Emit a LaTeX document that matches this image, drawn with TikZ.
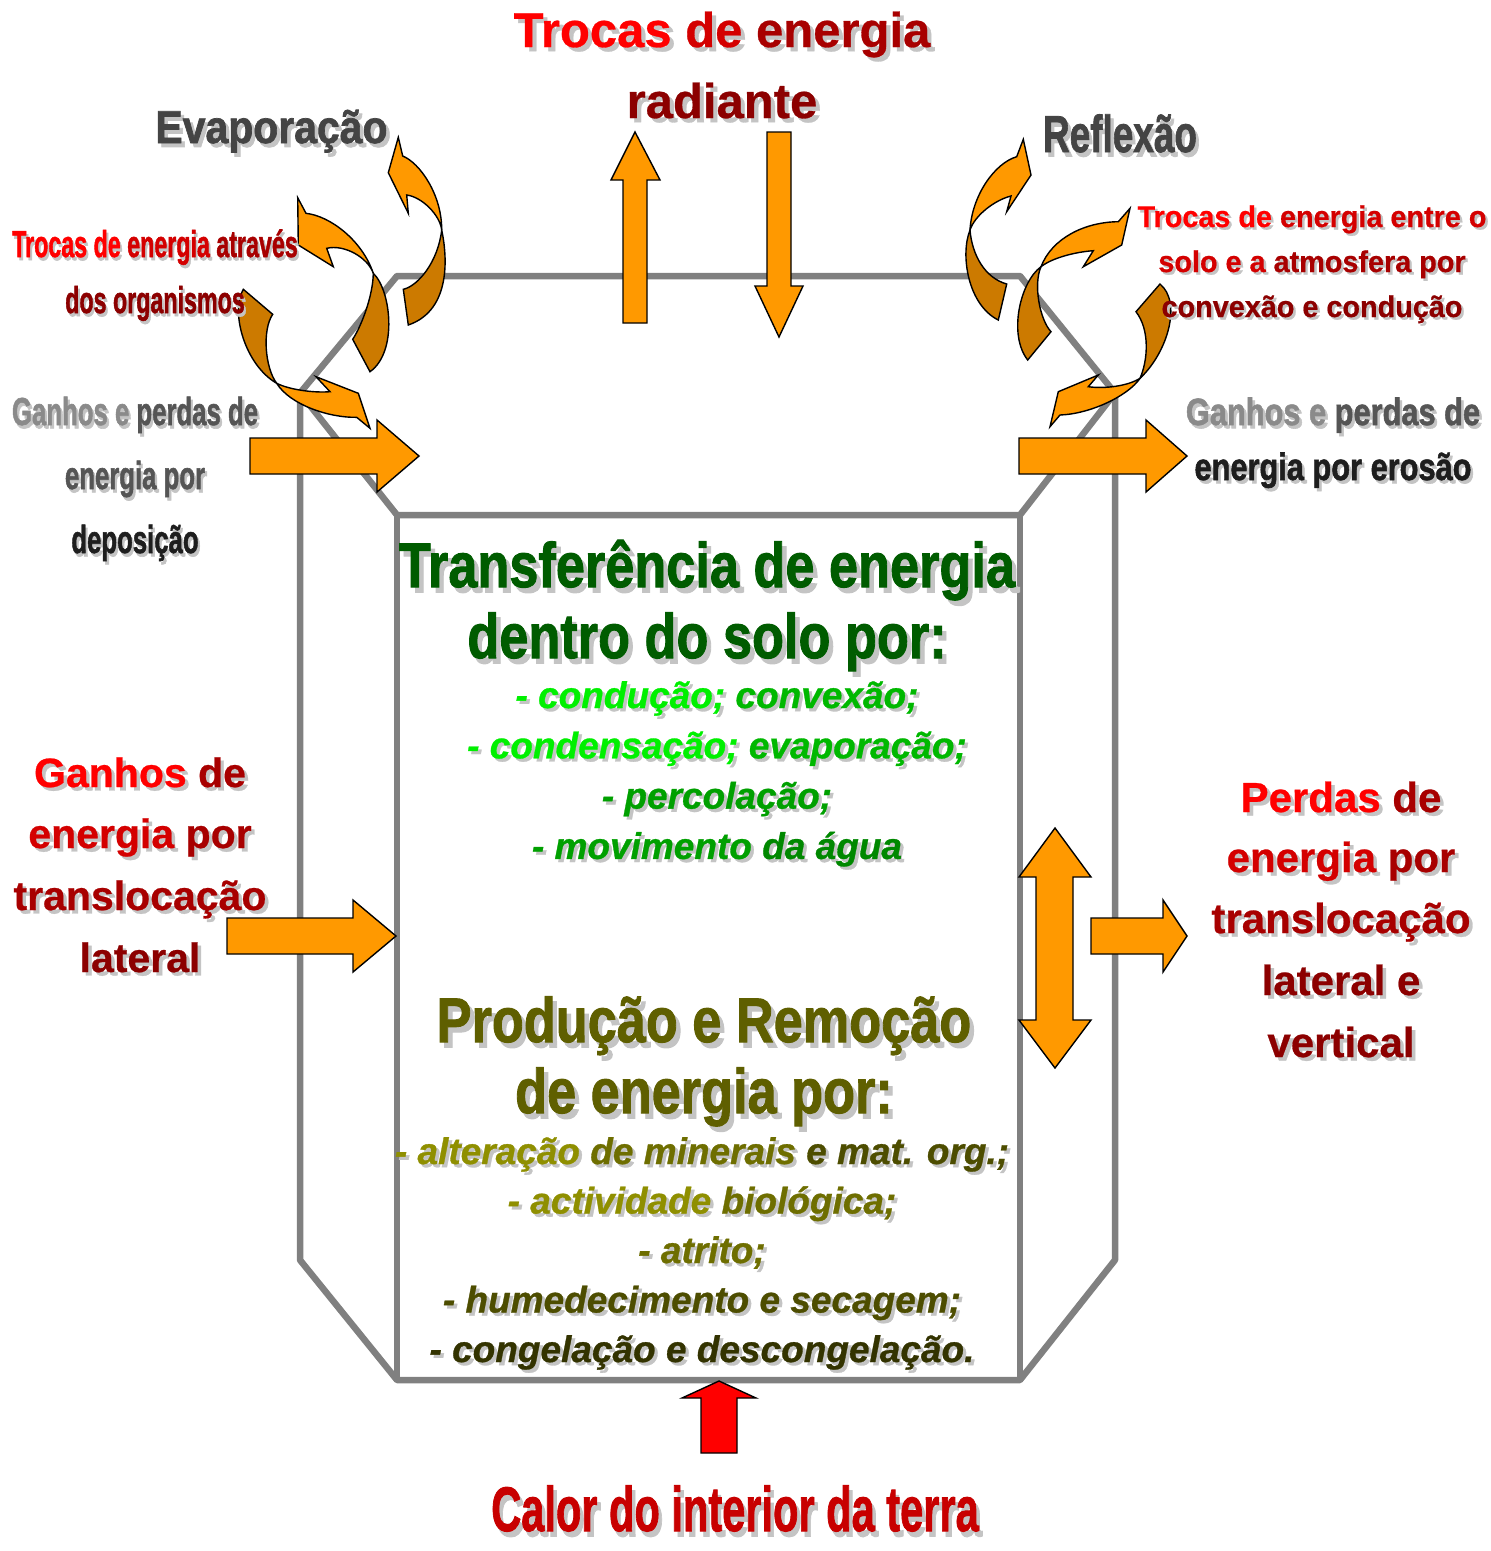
\documentclass[tikz,border=0pt]{standalone}
\usepackage{fontspec}
\setmainfont{Liberation Sans}[BoldFeatures={FakeBold=0.6}, BoldItalicFeatures={FakeBold=0.8}]
\newfontfamily\heavyfont{Liberation Sans}[BoldFeatures={FakeBold=1.6}]

\definecolor{arrorange}{HTML}{FF9900}
\definecolor{arrdark}{HTML}{CC7A00}
\definecolor{wallgray}{HTML}{808080}
\definecolor{shadowgray}{HTML}{C4C4C4}
\definecolor{redA}{HTML}{FF0000}
\definecolor{redB}{HTML}{D40000}
\definecolor{redC}{HTML}{A80000}
\definecolor{redD}{HTML}{8C0000}
\definecolor{redCal}{HTML}{C80000}
\definecolor{grayA}{HTML}{8A8A8A}
\definecolor{grayB}{HTML}{555555}
\definecolor{grayC}{HTML}{1E1E1E}
\definecolor{grayE}{HTML}{444444}
\definecolor{greenT}{HTML}{005C00}
\definecolor{limeA}{HTML}{00F000}
\definecolor{limeB}{HTML}{00B800}
\definecolor{limeC}{HTML}{00A000}
\definecolor{limeD}{HTML}{008800}
\definecolor{oliveT}{HTML}{5F5F00}
\definecolor{oliveA}{HTML}{8F8F00}
\definecolor{oliveB}{HTML}{6E6E00}
\definecolor{oliveC}{HTML}{4D4D00}
\definecolor{oliveD}{HTML}{333300}

% coloured word, and its grey twin for the drop shadow
\newcommand\tc[2]{\textcolor{#1}{#2}}
\newcommand\notc[2]{#2}
\newcommand\shd[1]{\makebox[0pt][l]{\hspace{0.085em}\raisebox{-0.085em}{\color{shadowgray}\let\tc\notc#1}}#1}

\tikzset{
  wall/.style={draw=wallgray, line width=6.5pt, line join=round},
  blockarr/.style={draw=black, line width=1.4pt, fill=arrorange},
  banddark/.style={draw=black, line width=1.4pt, fill=arrdark},
  lbl/.style={anchor=base, inner sep=0pt},
  fs/.style={font=\fontsize{#1}{#1}\selectfont\bfseries},
  fsh/.style={font=\fontsize{#1}{#1}\selectfont\heavyfont\bfseries},
  fsi/.style={font=\fontsize{#1}{#1}\selectfont\bfseries\itshape},
}

\begin{document}
\begin{tikzpicture}[x=1pt, y=-1pt]
\useasboundingbox (0,0) rectangle (1491,1551);
\fill[white] (0,0) rectangle (1491,1551);

% soil block
\draw[wall] (397,276) -- (1020,276) -- (1115,393) -- (1115,1260) -- (1020,1380) -- (397,1380) -- (300,1260) -- (300,393) -- cycle;
\draw[wall] (300,393) -- (397,515) -- (1020,515) -- (1115,393);
\draw[wall] (397,515) -- (397,1380);
\draw[wall] (1020,515) -- (1020,1380);

% straight arrows
\draw[blockarr] (623,323) -- (647,323) -- (647,180) -- (660,180) -- (635,132) -- (611,180) -- (623,180) -- cycle;
\draw[blockarr] (767,132) -- (791,132) -- (791,286) -- (803,286) -- (779,337) -- (755,286) -- (767,286) -- cycle;
\draw[blockarr] (250,438) -- (377,438) -- (377,420) -- (419,456) -- (377,492) -- (377,474) -- (250,474) -- cycle;
\draw[blockarr] (1019,438) -- (1146,438) -- (1146,420) -- (1187,456) -- (1146,492) -- (1146,474) -- (1019,474) -- cycle;
\draw[blockarr] (227,918) -- (353,918) -- (353,900) -- (396,936) -- (353,972) -- (353,954) -- (227,954) -- cycle;
\draw[blockarr] (1091,918) -- (1163,918) -- (1163,900) -- (1187,936) -- (1163,972) -- (1163,954) -- (1091,954) -- cycle;
\draw[blockarr] (1055,828) -- (1091,877) -- (1073,877) -- (1073,1020) -- (1091,1020) -- (1055,1068) -- (1019,1020) -- (1036,1020) -- (1036,877) -- (1019,877) -- cycle;
\draw[blockarr, fill=red] (701,1453) -- (737,1453) -- (737,1398) -- (756,1398) -- (719,1381) -- (682,1398) -- (701,1398) -- cycle;

% curved arrows, left
\draw[banddark] (441.7,230) .. controls (447,255) and (452,310) .. (408.3,325) -- (403.3,289.3) .. controls (418,286) and (438,262) .. (441.7,230) -- cycle;
\draw[blockarr] (398.3,137.3) -- (402.7,156) .. controls (420,163) and (442,195) .. (441.7,230) .. controls (440,215) and (422,197) .. (406.7,195) -- (408.3,213.3) -- (388.3,172.7) -- cycle;
\draw[banddark] (373.3,273.3) .. controls (391,290) and (398,352) .. (370,371.7) -- (352.7,339.3) .. controls (362,325) and (373,295) .. (373.3,273.3) -- cycle;
\draw[blockarr] (297.7,197.7) -- (306,213.3) .. controls (330,216) and (362,240) .. (373.3,273.3) .. controls (368,258) and (345,244) .. (326.7,248.3) -- (333.3,266.7) -- (298.3,245) -- cycle;
\draw[banddark] (243.3,289.3) .. controls (230,312) and (245,365) .. (276.7,383.3) .. controls (265,368) and (262,330) .. (272.7,314.3) -- cycle;
\draw[blockarr] (370,428.3) -- (358.3,393.3) -- (316,376.7) -- (330,391.7) .. controls (315,393) and (290,390) .. (276.7,383.3) .. controls (290,405) and (330,418) .. (356.7,417.3) -- cycle;

% curved arrows, right
\draw[banddark] (970,230) .. controls (960,255) and (968,305) .. (998.3,320) -- (1006.7,284) .. controls (985,278) and (972,255) .. (970,230) -- cycle;
\draw[blockarr] (1023.3,139.3) -- (1031,175) -- (1006.7,211.7) -- (1011,196) .. controls (995,200) and (975,215) .. (970,230) .. controls (972,195) and (995,163) .. (1016.7,156.7) -- cycle;
\draw[banddark] (1041,266.7) .. controls (1020,282) and (1008,335) .. (1027.7,360) -- (1051,331.7) .. controls (1040,320) and (1033,285) .. (1041,266.7) -- cycle;
\draw[blockarr] (1130,208.3) -- (1121.7,245) -- (1083.3,266.7) -- (1093.3,250.7) .. controls (1075,252) and (1052,258) .. (1041,266.7) .. controls (1052,238) and (1085,222) .. (1118.3,221.7) -- cycle;
\draw[banddark] (1160,284) .. controls (1182,302) and (1168,352) .. (1140,378.3) .. controls (1148,360) and (1150,330) .. (1136,311.7) -- cycle;
\draw[blockarr] (1050,426.7) -- (1058.3,391.7) -- (1098.3,375) -- (1088.3,386.7) .. controls (1105,389) and (1128,386) .. (1140,378.3) .. controls (1128,396) and (1090,414) .. (1060,415) -- cycle;

% labels
\node[lbl, fs=49] (rad1) at (722,47) {\shd{\tc{redA}{Trocas} \tc{redB}{de} \tc{redC}{energia}}};
\node[lbl, fs=49] (rad2) at (722,118) {\shd{\tc{redD}{radiante}}};
\node[lbl, fsh=46, xscale=0.89] (evap) at (271.5,143) {\shd{\tc{grayE}{Evaporação}}};
\node[lbl, fsh=52, xscale=0.71] (refl) at (1120,152) {\shd{\tc{grayE}{Reflexão}}};

\node[lbl, fsh=37.5, xscale=0.62] (org1) at (155,257) {\shd{\tc{redA}{Trocas de} \tc{redB}{energia} \tc{redC}{através}}};
\node[lbl, fsh=37.5, xscale=0.62] (org2) at (155,313) {\shd{\tc{redD}{dos organismos}}};

\node[lbl, fs=30, xscale=0.96] (atm1) at (1312,227) {\shd{\tc{redA}{Trocas de} \tc{redB}{energia entre o}}};
\node[lbl, fs=30, xscale=0.96] (atm2) at (1312,272) {\shd{\tc{redB}{solo e a} \tc{redC}{atmosfera por}}};
\node[lbl, fs=30, xscale=0.96] (atm3) at (1312,317) {\shd{\tc{redD}{convexão e condução}}};

\node[lbl, fsh=39, xscale=0.66] (dep1) at (135,425) {\shd{\tc{grayA}{Ganhos e} \tc{grayB}{perdas de}}};
\node[lbl, fsh=39, xscale=0.66] (dep2) at (135,489) {\shd{\tc{grayB}{energia por}}};
\node[lbl, fsh=39, xscale=0.66] (dep3) at (135,553) {\shd{\tc{grayC}{deposição}}};

\node[lbl, fsh=38, xscale=0.81] (ero1) at (1333,425) {\shd{\tc{grayA}{Ganhos e} \tc{grayB}{perdas de}}};
\node[lbl, fsh=38, xscale=0.81] (ero2) at (1333,480) {\shd{\tc{grayC}{energia por erosão}}};

\node[lbl, fsh=63, xscale=0.83] (tra1) at (707,587) {\shd{\tc{greenT}{Transferência de energia}}};
\node[lbl, fsh=63, xscale=0.83] (tra2) at (707,658) {\shd{\tc{greenT}{dentro do solo por:}}};
\foreach \ln [count=\i from 0] in {{\tc{limeA}{- condução;} \tc{limeB}{convexão;}},
    {\tc{limeA}{- condensação;} \tc{limeB}{evaporação;}},
    {\tc{limeC}{- percolação;}},
    {\tc{limeC}{- movimento} \tc{limeD}{da água}}}
  \node[lbl, fsi=37] (cond\i) at (717,{708+50.3*\i}) {\shd{\ln}};

\node[lbl, fsh=63, xscale=0.83] (pro1) at (704,1042) {\shd{\tc{oliveT}{Produção e Remoção}}};
\node[lbl, fsh=63, xscale=0.83] (pro2) at (704,1113) {\shd{\tc{oliveT}{de energia por:}}};
\foreach \ln [count=\i from 0] in {{\tc{oliveA}{- alteração} \tc{oliveB}{de minerais} \tc{oliveC}{e mat. org.;}},
    {\tc{oliveA}{- actividade} \tc{oliveB}{biológica;}},
    {\tc{oliveB}{- atrito;}},
    {\tc{oliveC}{- humedecimento e secagem;}},
    {\tc{oliveD}{- congelação e descongelação.}}}
  \node[lbl, fsi=37] (alt\i) at (702,{1164+49.5*\i}) {\shd{\ln}};

\node[lbl, fs=41] (latL1) at (140,787) {\shd{\tc{redA}{Ganhos} \tc{redC}{de}}};
\node[lbl, fs=41] (latL2) at (140,848) {\shd{\tc{redB}{energia} \tc{redC}{por}}};
\node[lbl, fs=41] (latL3) at (140,910) {\shd{\tc{redC}{translocação}}};
\node[lbl, fs=41] (latL4) at (140,972) {\shd{\tc{redD}{lateral}}};

\node[lbl, fs=42] (latR1) at (1341,812) {\shd{\tc{redA}{Perdas} \tc{redC}{de}}};
\node[lbl, fs=42] (latR2) at (1341,872) {\shd{\tc{redB}{energia} \tc{redC}{por}}};
\node[lbl, fs=42] (latR3) at (1341,933) {\shd{\tc{redC}{translocação}}};
\node[lbl, fs=42] (latR4) at (1341,995) {\shd{\tc{redD}{lateral e}}};
\node[lbl, fs=42] (latR5) at (1341,1057) {\shd{\tc{redD}{vertical}}};

\node[lbl, fsh=63, xscale=0.66, text depth=0pt] (calor) at (735,1531) {\shd{\tc{redCal}{Calor do interior da terra}}};
\end{tikzpicture}
\end{document}
